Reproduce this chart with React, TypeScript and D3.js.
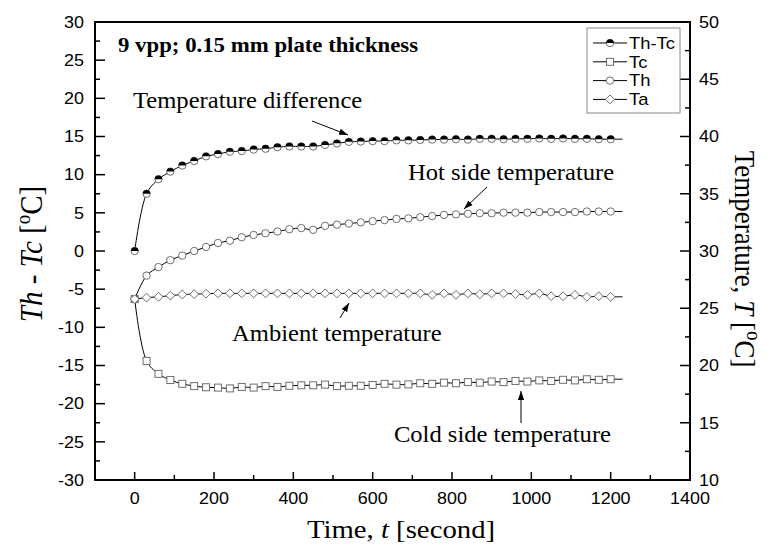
import * as d3 from 'd3';

// time in seconds; a marker every 30 s, the recorded line runs to 1230 s
const times = [
  0, 30, 60, 90, 120, 150, 180, 210, 240, 270, 300, 330, 360, 390, 420, 450, 480, 510, 540, 570, 600,
  630, 660, 690, 720, 750, 780, 810, 840, 870, 900, 930, 960, 990, 1020, 1050, 1080, 1110, 1140, 1170,
  1200, 1230,
];

// Th - Tc, left axis
const thTc = [
  0, 7.5, 9.4, 10.4, 11.2, 11.8, 12.4, 12.7, 13.0, 13.1, 13.3, 13.4, 13.6, 13.7, 13.7, 13.7, 13.9, 14.1,
  14.3, 14.35, 14.4, 14.4, 14.5, 14.5, 14.55, 14.6, 14.6, 14.65, 14.6, 14.7, 14.7, 14.65, 14.7, 14.7,
  14.75, 14.7, 14.75, 14.7, 14.7, 14.65, 14.65, 14.65,
];

// right axis, temperature T
const tc = [
  25.8, 20.4, 19.27, 18.73, 18.4, 18.2, 18.1, 18.07, 18.0, 18.13, 18.07, 18.2, 18.13, 18.23, 18.27, 18.27,
  18.33, 18.2, 18.23, 18.23, 18.3, 18.4, 18.33, 18.35, 18.45, 18.4, 18.5, 18.45, 18.55, 18.5, 18.6, 18.55,
  18.65, 18.6, 18.7, 18.65, 18.75, 18.7, 18.8, 18.75, 18.8, 18.8,
];
const th = [
  25.8, 27.85, 28.6, 29.2, 29.6, 30.0, 30.35, 30.7, 30.9, 31.2, 31.4, 31.55, 31.7, 31.9, 32.0, 31.85, 32.2,
  32.3, 32.4, 32.5, 32.6, 32.7, 32.8, 32.85, 32.95, 33.05, 33.15, 33.2, 33.25, 33.3, 33.3, 33.35, 33.35,
  33.35, 33.4, 33.4, 33.4, 33.4, 33.45, 33.45, 33.45, 33.45,
];
const ta = [
  25.8, 25.93, 26.0, 26.1, 26.2, 26.23, 26.27, 26.3, 26.3, 26.3, 26.3, 26.3, 26.3, 26.3, 26.3, 26.3, 26.3,
  26.3, 26.3, 26.3, 26.3, 26.3, 26.3, 26.3, 26.3, 26.17, 26.3, 26.17, 26.3, 26.22, 26.3, 26.3, 26.25,
  26.17, 26.3, 26.05, 26.05, 26.17, 26.0, 26.05, 26.0, 26.0,
];

const xTicks = [0, 200, 400, 600, 800, 1000, 1200, 1400];
const leftTicks = [-30, -25, -20, -15, -10, -5, 0, 5, 10, 15, 20, 25, 30];
const rightTicks = [10, 15, 20, 25, 30, 35, 40, 45, 50];
const legendNames = ['Th-Tc', 'Tc', 'Th', 'Ta'];

const W = 771;
const H = 545;
const serif = '"Liberation Serif", "Times New Roman", serif';
const sans = '"Liberation Sans", Arial, sans-serif';
const markerStroke = '#6e6e6e';

// the original figure is a little stretched sideways, so the text is too
const Txt = ({ x, y, sx = 1.12, children, ...rest }: any) => (
  <text transform={`translate(${x},${y}) scale(${sx},1)`} {...rest}>
    {children}
  </text>
);

const Marker = ({ kind, cx, cy }: { kind: string; cx: number; cy: number }) => {
  const r = 3.7;
  if (kind === 'Tc')
    return <rect x={cx - 3.5} y={cy - 3.5} width={7} height={7} fill="#fff" stroke={markerStroke} />;
  if (kind === 'Ta')
    return (
      <path
        d={`M${cx},${cy - 4.4}L${cx + 4.4},${cy}L${cx},${cy + 4.4}L${cx - 4.4},${cy}Z`}
        fill="#fff"
        stroke={markerStroke}
      />
    );
  if (kind === 'Th-Tc')
    return (
      <g>
        <circle cx={cx} cy={cy} r={r} fill="#fff" stroke={markerStroke} />
        <path d={`M${cx - r},${cy}A${r},${r} 0 0 1 ${cx + r},${cy}Z`} fill="#000" />
      </g>
    );
  return <circle cx={cx} cy={cy} r={r} fill="#fff" stroke={markerStroke} />;
};

export default function App() {
  const x = d3.scaleLinear().domain([-100, 1400]).range([95, 690]);
  const yL = d3.scaleLinear().domain([-30, 30]).range([480, 22]);
  const yR = d3.scaleLinear().domain([10, 50]).range([480, 22]);

  const series = [
    { name: 'Th-Tc', values: thTc, y: yL },
    { name: 'Tc', values: tc, y: yR },
    { name: 'Th', values: th, y: yR },
    { name: 'Ta', values: ta, y: yR },
  ];

  const line = (vals: number[], y: d3.ScaleLinear<number, number>) =>
    d3
      .line<number>()
      .x((_, i) => x(times[i]))
      .y((v) => y(v))
      .curve(d3.curveCatmullRom.alpha(0.5))(vals) || '';

  const xMinor = d3.range(-100, 1401, 100).filter((t) => !xTicks.includes(t));
  const lMinor = d3.range(-27.5, 30, 5);
  const rMinor = d3.range(12.5, 50, 5);

  const arrow = (x1: number, y1: number, x2: number, y2: number) => (
    <line x1={x1} y1={y1} x2={x2} y2={y2} stroke="#000" strokeWidth={1} markerEnd="url(#head)" />
  );

  return (
    <svg width={W} height={H} style={{ position: 'absolute', left: 0, top: 0, background: '#fff' }}>
      <defs>
        <marker id="head" viewBox="0 0 10 10" refX="10" refY="5" markerWidth="9" markerHeight="9" orient="auto" markerUnits="userSpaceOnUse">
          <path d="M0,1.5L10,5L0,8.5Z" fill="#000" />
        </marker>
      </defs>

      {/* frame */}
      <rect x={95} y={22} width={595} height={458} fill="none" stroke="#000" strokeWidth={2} />

      {/* bottom axis */}
      {xTicks.map((t) => (
        <g key={t}>
          <line x1={x(t)} x2={x(t)} y1={480} y2={472} stroke="#000" strokeWidth={1.5} />
          <Txt x={x(t)} y={504} textAnchor="middle" fontFamily={sans} fontSize={16}>
            {t}
          </Txt>
        </g>
      ))}
      {xMinor.map((t) => (
        <line key={t} x1={x(t)} x2={x(t)} y1={480} y2={475} stroke="#000" strokeWidth={1.5} />
      ))}

      {/* left axis */}
      {leftTicks.map((v) => (
        <g key={v}>
          <line x1={95} x2={105} y1={yL(v)} y2={yL(v)} stroke="#000" strokeWidth={1.5} />
          <Txt x={84} y={yL(v)} dy="0.36em" textAnchor="end" fontFamily={sans} fontSize={16}>
            {v}
          </Txt>
        </g>
      ))}
      {lMinor.map((v) => (
        <line key={v} x1={95} x2={100} y1={yL(v)} y2={yL(v)} stroke="#000" strokeWidth={1.5} />
      ))}

      {/* right axis */}
      {rightTicks.map((v) => (
        <g key={v}>
          <line x1={680} x2={690} y1={yR(v)} y2={yR(v)} stroke="#000" strokeWidth={1.5} />
          <Txt x={699} y={yR(v)} dy="0.36em" fontFamily={sans} fontSize={16}>
            {v}
          </Txt>
        </g>
      ))}
      {rMinor.map((v) => (
        <line key={v} x1={685} x2={690} y1={yR(v)} y2={yR(v)} stroke="#000" strokeWidth={1.5} />
      ))}

      {/* axis titles */}
      <Txt x={401} y={538} sx={1.15} textAnchor="middle" fontFamily={serif} fontSize={25}>
        Time, <tspan fontStyle="italic">t</tspan> [second]
      </Txt>
      <text transform="translate(42,254) rotate(-90) scale(1,1.1)" textAnchor="middle" fontFamily={serif} fontSize={29}>
        <tspan fontStyle="italic">Th</tspan> - <tspan fontStyle="italic">Tc</tspan> [
        <tspan fontSize={19} dy={-11}>o</tspan>
        <tspan dy={11}>C]</tspan>
      </text>
      <text transform="translate(735,259) rotate(90) scale(1,1.1)" textAnchor="middle" fontFamily={serif} fontSize={27}>
        Temperature, <tspan fontStyle="italic">T</tspan> [<tspan fontSize={19} dy={-11}>o</tspan>
        <tspan dy={11}>C]</tspan>
      </text>

      {/* series */}
      {series.map((s) => (
        <g key={s.name}>
          <path d={line(s.values, s.y)} fill="none" stroke="#000" strokeWidth={1} />
          {s.values.map((v, i) =>
            times[i] <= 1200 ? <Marker key={i} kind={s.name} cx={x(times[i])} cy={s.y(v)} /> : null,
          )}
        </g>
      ))}

      {/* annotations */}
      <Txt x={118} y={52} sx={1.14} fontFamily={serif} fontSize={20} fontWeight="bold">
        9 vpp; 0.15 mm plate thickness
      </Txt>
      <Txt x={133} y={108} sx={1.07} fontFamily={serif} fontSize={23}>
        Temperature difference
      </Txt>
      {arrow(312, 121, 348, 135)}
      <Txt x={408} y={180} sx={1.07} fontFamily={serif} fontSize={23}>
        Hot side temperature
      </Txt>
      {arrow(487, 187, 464, 209)}
      <Txt x={232} y={341} sx={1.07} fontFamily={serif} fontSize={23}>
        Ambient temperature
      </Txt>
      {arrow(340, 318, 349, 303)}
      <Txt x={611} y={442} sx={1.07} textAnchor="end" fontFamily={serif} fontSize={23}>
        Cold side temperature
      </Txt>
      {arrow(521, 423, 521, 391)}

      {/* legend */}
      <rect x={587} y={28} width={93} height={85} fill="#fff" stroke="#888" strokeWidth={1} />
      {legendNames.map((n, i) => {
        const ly = 43 + i * 18.8;
        return (
          <g key={n}>
            <line x1={593} x2={627} y1={ly} y2={ly} stroke="#000" strokeWidth={1} />
            <Marker kind={n} cx={610} cy={ly} />
            <Txt x={629} y={ly} sx={1.15} dy="0.36em" fontFamily={sans} fontSize={16}>
              {n}
            </Txt>
          </g>
        );
      })}
    </svg>
  );
}
